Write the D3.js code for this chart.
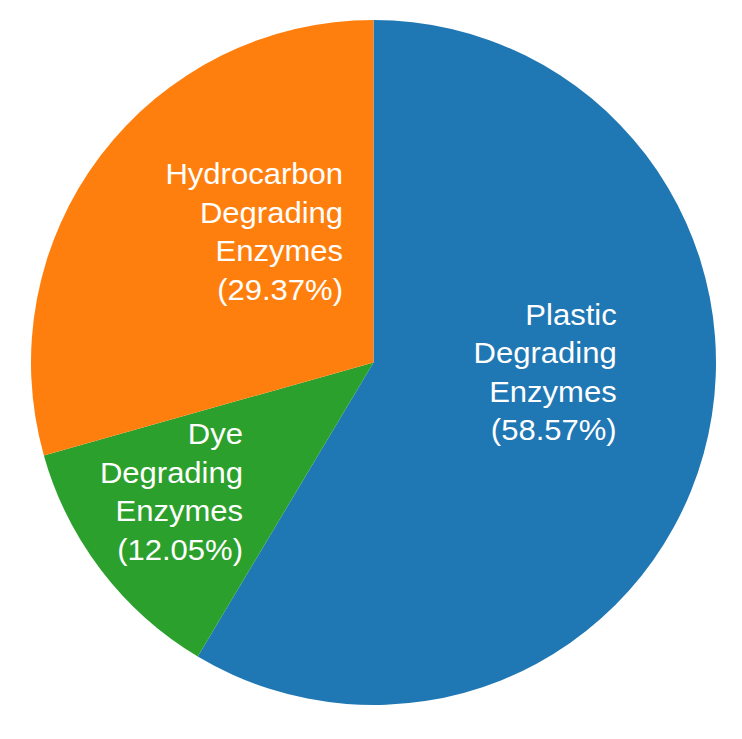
<!DOCTYPE html>
<html><head><meta charset="utf-8">
<script src="https://cdn.jsdelivr.net/npm/d3@7"></script>
<style>html,body{margin:0;padding:0;background:#fff;}</style>
</head><body>
<svg id="chart" width="742" height="739"></svg>
<script>
const categories = ["Plastic Degrading Enzymes", "Dye Degrading Enzymes", "Hydrocarbon Degrading Enzymes"];
const values = [58.57, 12.05, 29.37];
const colors = ["#1f77b4", "#2ca02c", "#ff7f0e"];
const labelLines = [
  ["Plastic", "Degrading", "Enzymes", "(58.57%)"],
  ["Dye", "Degrading", "Enzymes", "(12.05%)"],
  ["Hydrocarbon", "Degrading", "Enzymes", "(29.37%)"]
];
// label anchor (right edge, first baseline) relative to centre, in radius units
const labelAnchor = [[0.710, -0.110], [-0.381, 0.238], [-0.089, -0.521]];

const svg = d3.select("#chart");
const cx = 373.5, cy = 362.5, R = 342.5;
const g = svg.append("g").attr("transform", `translate(${cx},${cy})`);
const pie = d3.pie().sort(null).value(d => d)(values);
const arc = d3.arc().innerRadius(0).outerRadius(R);
g.selectAll("path").data(pie).join("path")
  .attr("d", arc).attr("fill", (d, i) => colors[i]);

const lh = 38.5;
const labels = g.selectAll("g.lbl").data(pie).join("g").attr("class", "lbl")
  .attr("transform", (d, i) => `translate(${labelAnchor[i][0]*R},${labelAnchor[i][1]*R}) scale(1.07,1)`);
labels.each(function(d, i) {
  const t = d3.select(this).append("text")
    .attr("text-anchor", "end")
    .attr("fill", "#fff")
    .style("font-family", "'Liberation Sans', Arial, sans-serif")
    .style("font-size", "29px");
  labelLines[i].forEach((s, k) => t.append("tspan").attr("x", 0).attr("y", k * lh).text(s));
});
</script>
</body></html>
